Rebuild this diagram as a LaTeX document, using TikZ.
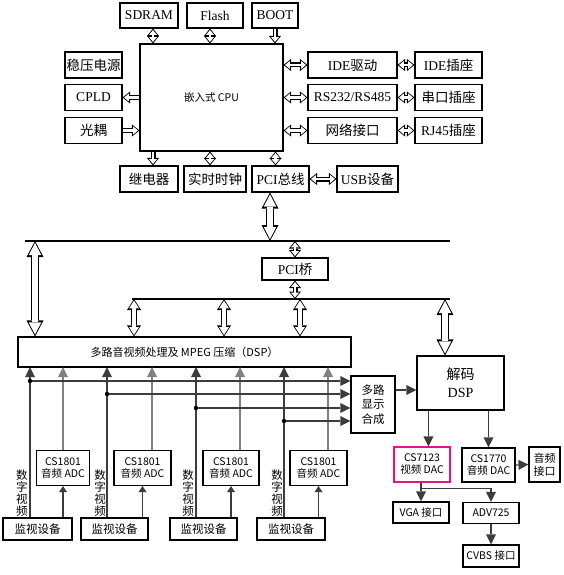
\documentclass[tikz,border=0pt]{standalone}
\usepackage{fontspec}
\setmainfont{Liberation Serif}
\newfontfamily\cjk{Noto Sans CJK SC}
\usetikzlibrary{arrows.meta, positioning, calc}
\definecolor{linegray}{RGB}{60,60,60}
\definecolor{dacpink}{RGB}{225,20,140}

\begin{document}
\begin{tikzpicture}[x=1pt, y=-1pt,
        blk/.style={draw, line width=1.1pt, inner sep=0pt, align=center, font=\fontsize{13.5}{15}\selectfont},
        sblk/.style={draw, line width=1.1pt, inner sep=0pt, align=center, font=\cjk\fontsize{10.5}{12}\selectfont},
        vtext/.style={inner sep=0pt, align=center, font=\cjk\fontsize{11.5}{12}\selectfont},
        bus/.style={line width=2pt},
        sig/.style={line width=1.2pt, draw=linegray, -{Triangle[width=10pt,length=10pt,line width=0pt]}},
        hol/.style={line width=5pt, {Triangle[width=12pt,length=7.5pt,line width=0pt]}-{Triangle[width=12pt,length=7.5pt,line width=0pt]},
            postaction={draw=white, line width=2.6pt, {Triangle[width=8pt,length=4.8pt,line width=0pt]}-{Triangle[width=8pt,length=4.8pt,line width=0pt]}, shorten <=1.5pt, shorten >=1.5pt}},
        hol1/.style={line width=5pt, -{Triangle[width=12pt,length=7.5pt,line width=0pt]},
            postaction={draw=white, line width=2.6pt, -{Triangle[width=8pt,length=4.8pt,line width=0pt]}, shorten >=1.5pt}},
        midhol/.style={line width=6.5pt, {Triangle[width=14pt,length=11pt,line width=0pt]}-{Triangle[width=14pt,length=11pt,line width=0pt]},
            postaction={draw=white, line width=3.8pt, {Triangle[width=10pt,length=7.8pt,line width=0pt]}-{Triangle[width=10pt,length=7.8pt,line width=0pt]}, shorten <=1.6pt, shorten >=1.6pt}},
        bighol/.style={line width=8pt, {Triangle[width=17pt,length=16pt,line width=0pt]}-{Triangle[width=17pt,length=16pt,line width=0pt]},
            postaction={draw=white, line width=5.2pt, {Triangle[width=12.5pt,length=12pt,line width=0pt]}-{Triangle[width=12.5pt,length=12pt,line width=0pt]}, shorten <=2pt, shorten >=2pt}}
    ]
        \useasboundingbox (0,0) rectangle (564,575);

        % CPU and its peripherals
        \node[blk, minimum width=143pt, minimum height=107pt, font=\cjk\fontsize{10.5}{12}\selectfont] (cpu) at (211.5,97.5) {嵌入式 CPU};
        \node[blk, minimum width=58pt, minimum height=25pt] (sdram) at (149,15.5) {SDRAM};
        \node[blk, minimum width=56pt, minimum height=25pt] (flash) at (215,15.5) {Flash};
        \node[blk, minimum width=46pt, minimum height=25pt] (boot) at (275,15.5) {BOOT};

        \node[blk, minimum width=57pt, minimum height=26pt] (power) at (93.5,65) {\cjk 稳压电源};
        \node[blk, minimum width=57pt, minimum height=26pt] (cpld) at (93.5,97.5) {CPLD};
        \node[blk, minimum width=57pt, minimum height=26pt] (opto) at (93.5,130.5) {\cjk 光耦};

        \node[blk, minimum width=89pt, minimum height=26pt] (ide) at (352.5,65) {IDE{\cjk 驱动}};
        \node[blk, minimum width=89pt, minimum height=26pt] (rs) at (352.5,97.5) {RS232/RS485};
        \node[blk, minimum width=89pt, minimum height=26pt] (net) at (352.5,130.5) {\cjk 网络接口};
        \node[blk, minimum width=67pt, minimum height=26pt] (idesock) at (448.5,65) {IDE{\cjk 插座}};
        \node[blk, minimum width=67pt, minimum height=26pt] (serial) at (448.5,97.5) {\cjk 串口插座};
        \node[blk, minimum width=67pt, minimum height=26pt] (rj45) at (448.5,130.5) {RJ45{\cjk 插座}};

        \node[blk, minimum width=58pt, minimum height=26pt] (relay) at (149,179) {\cjk 继电器};
        \node[blk, minimum width=62pt, minimum height=26pt] (rtc) at (215,179) {\cjk 实时时钟};
        \node[blk, minimum width=57pt, minimum height=26pt] (pcibus) at (280.5,179) {PCI{\cjk 总线}};
        \node[blk, minimum width=61pt, minimum height=26pt] (usb) at (367.5,179) {USB{\cjk 设备}};

        \coordinate (sd) at ([xshift=4pt]sdram.south);
        \coordinate (fl) at ([xshift=-5pt]flash.south);
        \coordinate (rl) at ([xshift=4pt]relay.north);
        \coordinate (rt) at ([xshift=-5pt]rtc.north);
        \coordinate (pc) at ([xshift=-5pt]pcibus.north);
        \draw[hol] (sd) -- (sd |- cpu.north);
        \draw[hol] (fl) -- (fl |- cpu.north);
        \draw[hol1] (boot.south) -- (boot.south |- cpu.north);
        \draw[hol1] (cpld.east -| cpu.west) -- (cpld.east);
        \draw[hol1] (opto.east) -- (opto.east -| cpu.west);
        \draw[hol] (ide.west -| cpu.east) -- (ide.west);
        \draw[hol] (rs.west -| cpu.east) -- (rs.west);
        \draw[hol] (net.west -| cpu.east) -- (net.west);
        \draw[hol] (ide.east) -- (idesock.west);
        \draw[hol] (rs.east) -- (serial.west);
        \draw[hol] (net.east) -- (rj45.west);
        \draw[hol1] (rl |- cpu.south) -- (rl);
        \draw[hol] (rt |- cpu.south) -- (rt);
        \draw[hol] (pc |- cpu.south) -- (pc);
        \draw[hol] (pcibus.east) -- (usb.west);

        % Buses
        \coordinate (busAl) at (25,241);
        \coordinate (busAr) at (450,241);
        \coordinate (busBl) at (132,299);
        \coordinate (busBr) at (450,299);
        \draw[bus] (busAl) -- (busAr);
        \draw[bus] (busBl) -- (busBr);

        \coordinate (pcitap) at (270,241);
        \draw[bighol] (pcitap |- pcibus.south) -- (pcitap);

        \node[blk, minimum width=66pt, minimum height=22pt] (bridge) at (295,269) {PCI{\cjk 桥}};
        \draw[hol] (bridge.north) -- (bridge.north |- busAl);
        \draw[hol] (bridge.south) -- (bridge.south |- busBl);

        % DSP stages
        \node[sblk, minimum width=333pt, minimum height=30pt, font=\cjk\fontsize{11}{13}\selectfont] (dsp) at (184.5,352) {多路音视频处理及 MPEG 压缩（DSP）};
        \node[blk, minimum width=87pt, minimum height=54pt, font=\fontsize{14}{18}\selectfont] (dec) at (460.5,383) {{\cjk 解码}\\DSP};
        \node[sblk, minimum width=44pt, minimum height=57pt, font=\cjk\fontsize{11.5}{14.5}\selectfont] (mux) at (373,404.5) {多路\\显示\\合成};

        \coordinate (a0) at (35,241);
        \coordinate (b1) at (134,299);
        \coordinate (b2) at (224,299);
        \coordinate (b3) at (300,299);
        \coordinate (b4) at (445,299);
        \draw[bighol] (a0) -- (a0 |- dsp.north);
        \draw[midhol] (b1) -- (b1 |- dsp.north);
        \draw[midhol] (b2) -- (b2 |- dsp.north);
        \draw[midhol] (b3) -- (b3 |- dsp.north);
        \draw[bighol] (b4) -- (b4 |- dec.north);

        \coordinate (mo) at ([yshift=14.5pt]mux.east);
        \draw[sig] (mo) -- (mo -| dec.west);

        % Monitor inputs
        \node[sblk, minimum width=69pt, minimum height=22pt, font=\cjk\fontsize{11.5}{13}\selectfont] (mon1) at (37.5,529) {监视设备};
        \node[sblk, minimum width=67pt, minimum height=22pt, font=\cjk\fontsize{11.5}{13}\selectfont] (mon2) at (114.5,529) {监视设备};
        \node[sblk, minimum width=67pt, minimum height=22pt, font=\cjk\fontsize{11.5}{13}\selectfont] (mon3) at (203.5,529) {监视设备};
        \node[sblk, minimum width=68pt, minimum height=22pt, font=\cjk\fontsize{11.5}{13}\selectfont] (mon4) at (291,529) {监视设备};

        \node[sblk, minimum width=53pt, minimum height=35pt] (adc1) at (63,468) {CS1801\\音频 ADC};
        \node[sblk, minimum width=57pt, minimum height=35pt] (adc2) at (142.5,468) {CS1801\\音频 ADC};
        \node[sblk, minimum width=56pt, minimum height=35pt] (adc3) at (231,468) {CS1801\\音频 ADC};
        \node[sblk, minimum width=57pt, minimum height=35pt] (adc4) at (318.5,468) {CS1801\\音频 ADC};

        \node[vtext] (vt1) at (22,493) {数\\字\\视\\频};
        \node[vtext] (vt2) at (100,493) {数\\字\\视\\频};
        \node[vtext] (vt3) at (188,493) {数\\字\\视\\频};
        \node[vtext] (vt4) at (277,493) {数\\字\\视\\频};

        \coordinate (vin1) at (30,367);
        \coordinate (vin2) at (107,367);
        \coordinate (vin3) at (196,367);
        \coordinate (vin4) at (284,367);
        \coordinate (ain1) at (63,367);
        \coordinate (ain2) at (152,367);
        \coordinate (ain3) at (240,367);
        \coordinate (ain4) at (328,367);
        \coordinate (t1) at ([yshift=23.5pt]mux.west);
        \coordinate (t2) at ([yshift=10.5pt]mux.west);
        \coordinate (t3) at ([yshift=-3.5pt]mux.west);
        \coordinate (t4) at ([yshift=-16.5pt]mux.west);

        \draw[sig] (vin1 |- mon1.north) -- (vin1);
        \draw[sig] (vin2 |- mon2.north) -- (vin2);
        \draw[sig] (vin3 |- mon3.north) -- (vin3);
        \draw[sig] (vin4 |- mon4.north) -- (vin4);
        \draw[sig, draw=gray] (ain1 |- adc1.north) -- (ain1);
        \draw[sig, draw=gray] (ain2 |- adc2.north) -- (ain2);
        \draw[sig, draw=gray] (ain3 |- adc3.north) -- (ain3);
        \draw[sig, draw=gray] (ain4 |- adc4.north) -- (ain4);

        \draw[sig] (vin1 |- t1) -- (t1);
        \draw[sig] (vin2 |- t2) -- (t2);
        \draw[sig] (vin3 |- t3) -- (t3);
        \draw[sig] (vin4 |- t4) -- (t4);
        \fill (vin1 |- t1) circle (2.2pt);
        \fill (vin2 |- t2) circle (2.2pt);
        \fill (vin3 |- t3) circle (2.2pt);
        \fill (vin4 |- t4) circle (2.2pt);

        \draw[sig, -{Triangle[width=8pt,length=6pt,line width=0pt]}] (adc1.south |- mon1.north) -- (adc1.south);
        \draw[sig, -{Triangle[width=8pt,length=6pt,line width=0pt]}] (adc2.south |- mon2.north) -- (adc2.south);
        \draw[sig, -{Triangle[width=8pt,length=6pt,line width=0pt]}] (adc3.south |- mon3.north) -- (adc3.south);
        \draw[sig, -{Triangle[width=8pt,length=6pt,line width=0pt]}] (adc4.south |- mon4.north) -- (adc4.south);

        % Decoder outputs
        \node[sblk, draw=dacpink, minimum width=56pt, minimum height=35pt] (dac1) at (422,464.5) {CS7123\\视频 DAC};
        \node[sblk, minimum width=53pt, minimum height=34pt] (dac2) at (488.5,465) {CS1770\\音频 DAC};
        \node[sblk, minimum width=31pt, minimum height=35pt, font=\cjk\fontsize{11}{13}\selectfont] (aout) at (544.5,464.5) {音频\\接口};
        \node[sblk, minimum width=56pt, minimum height=21pt] (vga) at (421,512.5) {VGA 接口};
        \node[sblk, minimum width=56pt, minimum height=21pt] (adv) at (491,513) {ADV725};
        \node[sblk, minimum width=56pt, minimum height=22pt] (cvbs) at (491,556) {CVBS 接口};

        \coordinate (d1) at ([xshift=12pt]dec.south west);
        \draw[sig] (d1) -- (d1 |- dac1.north);
        \draw[sig] (dac2.north |- dec.south) -- (dac2.north);
        \draw[sig] (dac2.east) -- (aout.west);
        \draw[sig] (vga.north |- dac1.south) -- (vga.north);
        \draw[sig] (vga.north |- dac1.south) -- ++(0,6) -| (adv.north);
        \draw[sig] (adv.south) -- (cvbs.north);
\end{tikzpicture}
\end{document}
